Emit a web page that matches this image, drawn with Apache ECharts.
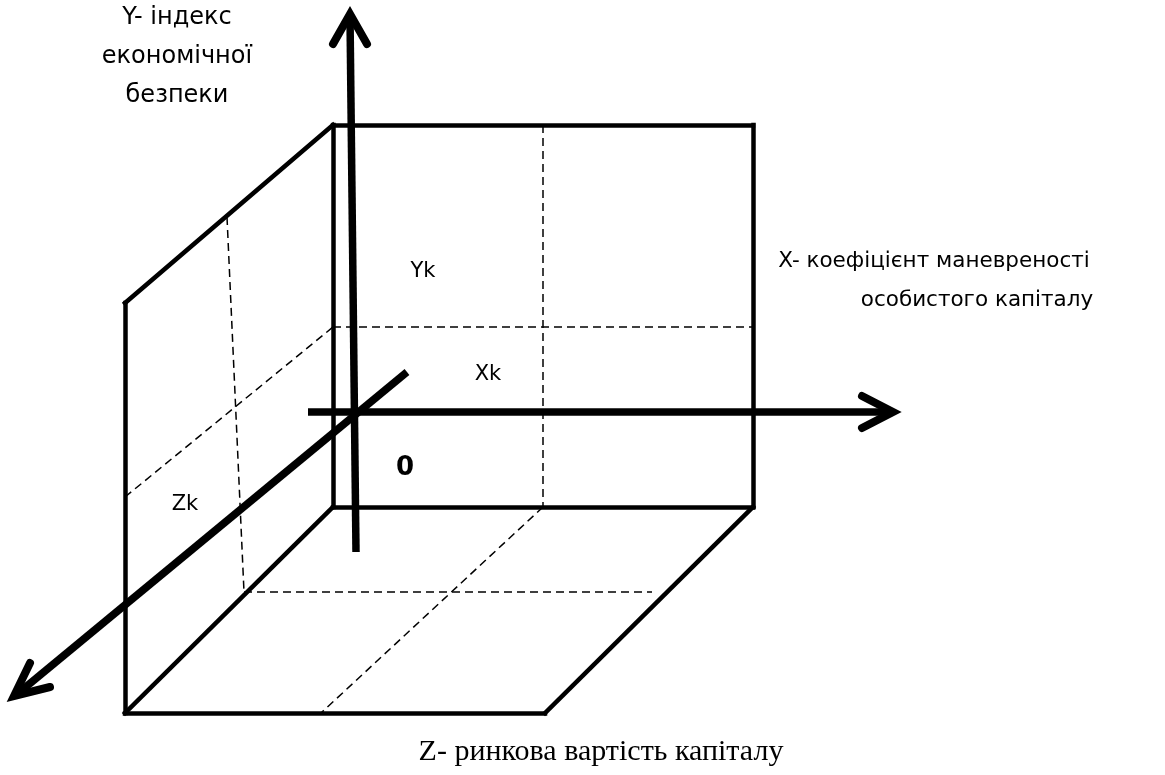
<!DOCTYPE html>
<html><head><meta charset="utf-8">
<script src="https://cdn.jsdelivr.net/npm/echarts@6/dist/echarts.min.js"></script>
<style>html,body{margin:0;padding:0;background:#fff}#c{width:1165px;height:775px}</style>
</head><body><div id="c"></div>
<script>
// Diagram geometry in picture units (x right, y down)
const boxSolid = [
  [[333,125],[753,125]], [[753,125],[753,507]], [[753,507],[333,507]], [[333,507],[333,125]],
  [[125,303],[333,125]], [[125,303],[125,713]], [[125,713],[333,507]],
  [[125,713],[545,713]], [[545,713],[753,507]]
];
const boxDashed = [
  [[543,125],[543,507]], [[333,327],[753,327]],
  [[125,497],[333,327]], [[227,217],[244,592]],
  [[244,592],[652,592]], [[543,507],[321,713]]
];
const axisLines = [
  [[356,552],[350,16]],
  [[308,412],[890,412]],
  [[407,372],[16,695]]
];
const arrowHeads = [
  [[333,44],[350,14],[367,44]],
  [[862,396],[893,412],[862,428]],
  [[30,663],[14,696],[50,687]]
];
const labelTexts = ['Y- індекс', 'економічної', 'безпеки', 'X- коефіцієнт маневреності', 'особистого капіталу', 'Yk', 'Xk', 'Zk', '0', 'Z- ринкова вартість капіталу'];
const labelPos = [[177,18],[177,57],[177,96],[934,261],[977,300],[423,272],[488,375],[185,505],[405,468],[601,752]];

const sansFont = 'DejaVu Sans';
const labelStyles = [
  {fontSize:24}, {fontSize:24}, {fontSize:24},
  {fontSize:21.5}, {fontSize:21.5},
  {fontSize:21}, {fontSize:21}, {fontSize:21},
  {fontSize:26, fontWeight:'bold'},
  {fontSize:30, fontFamily:'Liberation Serif'}
];

const chart = echarts.init(document.getElementById('c'));
chart.setOption({
  animation:false,
  backgroundColor:'#fff',
  grid:{left:0,right:0,top:0,bottom:0},
  xAxis:{type:'value',min:0,max:1165,show:false},
  yAxis:{type:'value',min:0,max:775,inverse:true,show:false},
  series:[
    {type:'lines',coordinateSystem:'cartesian2d',silent:true,
     lineStyle:{color:'#000',width:4.5,type:'solid',cap:'square',join:'miter',opacity:1},
     data:boxSolid.map(s=>({coords:s}))},
    {type:'lines',coordinateSystem:'cartesian2d',silent:true,
     lineStyle:{color:'#000',width:1.5,type:[8,5],opacity:1},
     data:boxDashed.map(s=>({coords:s}))},
    {type:'lines',coordinateSystem:'cartesian2d',silent:true,
     lineStyle:{color:'#000',width:7.5,type:'solid',cap:'butt',opacity:1},
     data:axisLines.map(s=>({coords:s}))},
    {type:'lines',coordinateSystem:'cartesian2d',polyline:true,silent:true,
     lineStyle:{color:'#000',width:8,type:'solid',cap:'round',join:'miter',opacity:1},
     data:arrowHeads.map(s=>({coords:s}))},
    {type:'scatter',symbolSize:0,silent:true,itemStyle:{color:'#000'},
     data:labelTexts.map((t,i)=>({name:t,value:labelPos[i],
       label:Object.assign({show:true,position:[0,0],align:'center',verticalAlign:'middle',
         formatter:t,color:'#000',opacity:1,fontFamily:sansFont},labelStyles[i])}))}
  ]
});
</script></body></html>
